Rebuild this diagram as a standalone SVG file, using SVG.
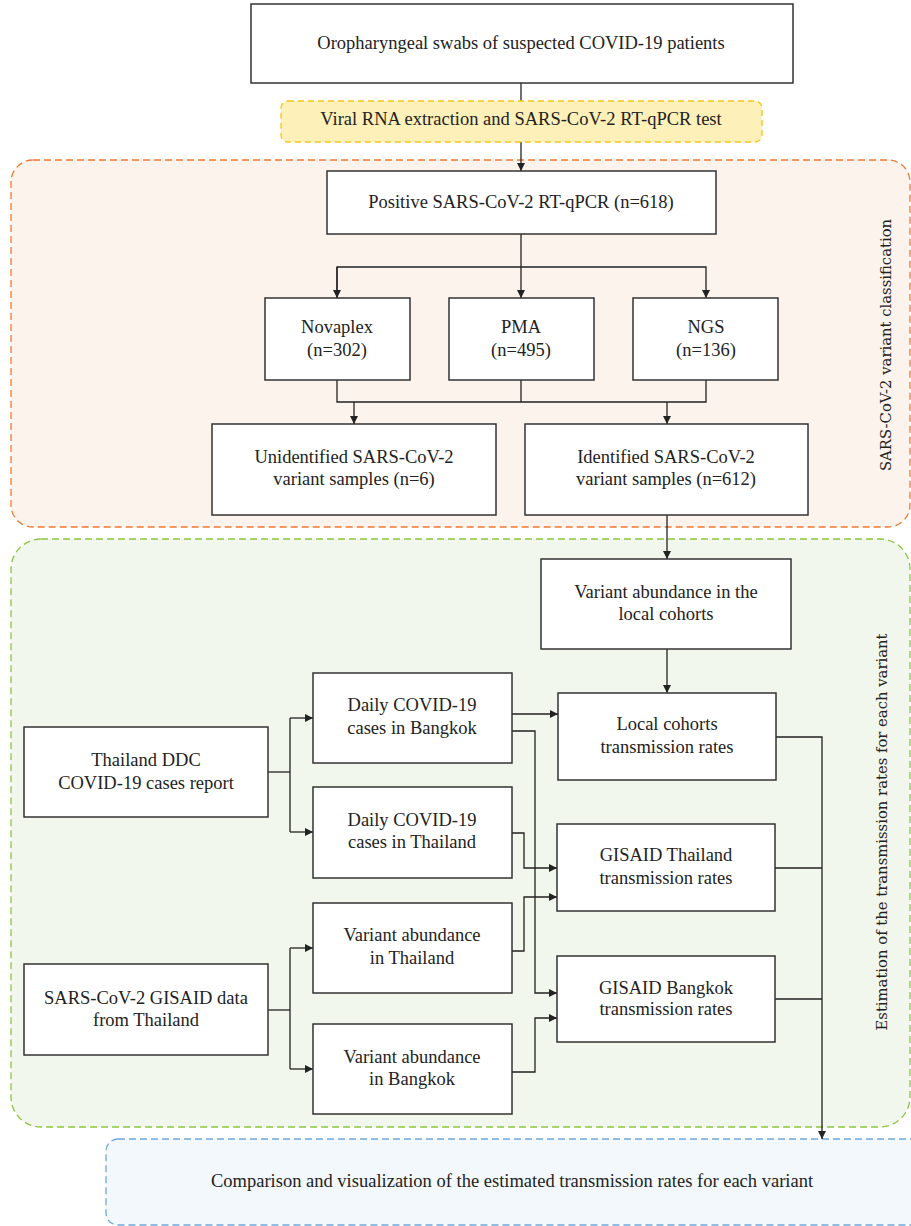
<svg xmlns="http://www.w3.org/2000/svg" width="911" height="1226" viewBox="0 0 911 1226">
<defs>
<style>
.box{fill:#fff;stroke:#333;stroke-width:1.5}
.t{font-family:"Liberation Serif","Times New Roman",serif;font-size:18.5px;fill:#222;text-anchor:middle}
.v{font-family:"DejaVu Serif",serif;font-size:14.8px;fill:#222;text-anchor:middle}
.c{fill:none;stroke:#222;stroke-width:1.3}
</style>
<marker id="a" viewBox="0 0 10 10" refX="10" refY="5" markerWidth="8" markerHeight="8" markerUnits="userSpaceOnUse" orient="auto"><path d="M0,0 L10,5 L0,10 z" fill="#222"/></marker>
</defs>
<rect width="911" height="1226" fill="#fff"/>
<g id="regions">
<rect x="11" y="160" width="899" height="367" rx="22" fill="#fbf3ec" stroke="#f07a30" stroke-width="1.3" stroke-dasharray="7,4"/>
<rect x="11" y="539" width="899" height="588" rx="30" fill="#f1f7ec" stroke="#8cc63f" stroke-width="1.3" stroke-dasharray="7,4"/>
<rect x="106" y="1139" width="830" height="86" rx="12" fill="#f3f8fc" stroke="#6fa8dc" stroke-width="1.3" stroke-dasharray="7,4"/>
<text class="v" transform="translate(891,345) rotate(-90)">SARS-CoV-2 variant classification</text>
<text class="v" transform="translate(887,832) rotate(-90)">Estimation of the transmission rates for each variant</text>
</g>
<g id="connectors">
<path class="c" d="M521,83 V101"/>
<path class="c" d="M521,142 V171" marker-end="url(#a)"/>
<path class="c" d="M521,234 V298" marker-end="url(#a)"/>
<path class="c" d="M337,298 V267 H706 V298" marker-end="url(#a)"/>
<path class="c" d="M337,267 V298" marker-end="url(#a)"/>
<path class="c" d="M337,380 V402 H706 V380 M521,380 V402"/>
<path class="c" d="M354,402 V424" marker-end="url(#a)"/>
<path class="c" d="M667,402 V424" marker-end="url(#a)"/>
<path class="c" d="M667,515 V559" marker-end="url(#a)"/>
<path class="c" d="M667,649 V693" marker-end="url(#a)"/>
<path class="c" d="M268,772 H290"/>
<path class="c" d="M290,718 V832"/>
<path class="c" d="M290,718 H313" marker-end="url(#a)"/>
<path class="c" d="M290,832 H313" marker-end="url(#a)"/>
<path class="c" d="M512,714 H558" marker-end="url(#a)"/>
<path class="c" d="M512,731 H535 V993 H557" marker-end="url(#a)"/>
<path class="c" d="M512,833 H524 V868 H557" marker-end="url(#a)"/>
<path class="c" d="M512,951 H524 V897 H557" marker-end="url(#a)"/>
<path class="c" d="M512,1072 H535 V1018 H557" marker-end="url(#a)"/>
<path class="c" d="M268,1010 H290"/>
<path class="c" d="M290,948 V1069"/>
<path class="c" d="M290,948 H313" marker-end="url(#a)"/>
<path class="c" d="M290,1069 H313" marker-end="url(#a)"/>
<path class="c" d="M776,737 H822 V1139" marker-end="url(#a)"/>
<path class="c" d="M775,868 H822"/>
<path class="c" d="M775,999 H822"/>
</g>
<g id="n_swabs"><rect class="box" x="251" y="4" width="542" height="79"/><text class="t" x="521" y="49">Oropharyngeal swabs of suspected COVID-19 patients</text></g>
<g id="n_rna"><rect x="281" y="101" width="481" height="41" rx="7" fill="#fdf0b8" stroke="#f5c518" stroke-width="1.3" stroke-dasharray="6,4"/><text class="t" x="521" y="125">Viral RNA extraction and SARS-CoV-2 RT-qPCR test</text></g>
<g id="n_positive"><rect class="box" x="327" y="171" width="389" height="63"/><text class="t" x="521" y="208">Positive SARS-CoV-2 RT-qPCR (n=618)</text></g>
<g id="n_novaplex"><rect class="box" x="265" y="298" width="145" height="82"/><text class="t" x="337" y="333">Novaplex</text><text class="t" x="337" y="356">(n=302)</text></g>
<g id="n_pma"><rect class="box" x="449" y="298" width="145" height="82"/><text class="t" x="521" y="333">PMA</text><text class="t" x="521" y="356">(n=495)</text></g>
<g id="n_ngs"><rect class="box" x="633" y="298" width="145" height="82"/><text class="t" x="706" y="333">NGS</text><text class="t" x="706" y="356">(n=136)</text></g>
<g id="n_unidentified"><rect class="box" x="212" y="424" width="284" height="91"/><text class="t" x="354" y="463">Unidentified SARS-CoV-2</text><text class="t" x="354" y="485">variant samples (n=6)</text></g>
<g id="n_identified"><rect class="box" x="525" y="424" width="283" height="91"/><text class="t" x="666" y="463">Identified SARS-CoV-2</text><text class="t" x="666" y="485">variant samples (n=612)</text></g>
<g id="n_va_local"><rect class="box" x="541" y="559" width="250" height="90"/><text class="t" x="666" y="598">Variant abundance in the</text><text class="t" x="666" y="620">local cohorts</text></g>
<g id="n_local_rates"><rect class="box" x="558" y="693" width="218" height="87"/><text class="t" x="667" y="730">Local cohorts</text><text class="t" x="667" y="753">transmission rates</text></g>
<g id="n_daily_bkk"><rect class="box" x="313" y="673" width="199" height="90"/><text class="t" x="412" y="711">Daily COVID-19</text><text class="t" x="412" y="734">cases in Bangkok</text></g>
<g id="n_ddc"><rect class="box" x="24" y="727" width="244" height="90"/><text class="t" x="146" y="766">Thailand DDC</text><text class="t" x="146" y="789">COVID-19 cases report</text></g>
<g id="n_daily_th"><rect class="box" x="313" y="787" width="199" height="91"/><text class="t" x="412" y="826">Daily COVID-19</text><text class="t" x="412" y="848">cases in Thailand</text></g>
<g id="n_gisaid_th"><rect class="box" x="557" y="824" width="218" height="87"/><text class="t" x="666" y="861">GISAID Thailand</text><text class="t" x="666" y="884">transmission rates</text></g>
<g id="n_va_th"><rect class="box" x="313" y="903" width="199" height="90"/><text class="t" x="412" y="941">Variant abundance</text><text class="t" x="412" y="964">in Thailand</text></g>
<g id="n_gisaid_bkk"><rect class="box" x="557" y="956" width="218" height="86"/><text class="t" x="666" y="994">GISAID Bangkok</text><text class="t" x="666" y="1015">transmission rates</text></g>
<g id="n_gisaid_data"><rect class="box" x="24" y="964" width="244" height="91"/><text class="t" x="146" y="1004">SARS-CoV-2 GISAID data</text><text class="t" x="146" y="1026">from Thailand</text></g>
<g id="n_va_bkk"><rect class="box" x="313" y="1024" width="199" height="90"/><text class="t" x="412" y="1063">Variant abundance</text><text class="t" x="412" y="1085">in Bangkok</text></g>
<g id="n_compare"><text class="t" x="512" y="1187">Comparison and visualization of the estimated transmission rates for each variant</text></g>
</svg>
